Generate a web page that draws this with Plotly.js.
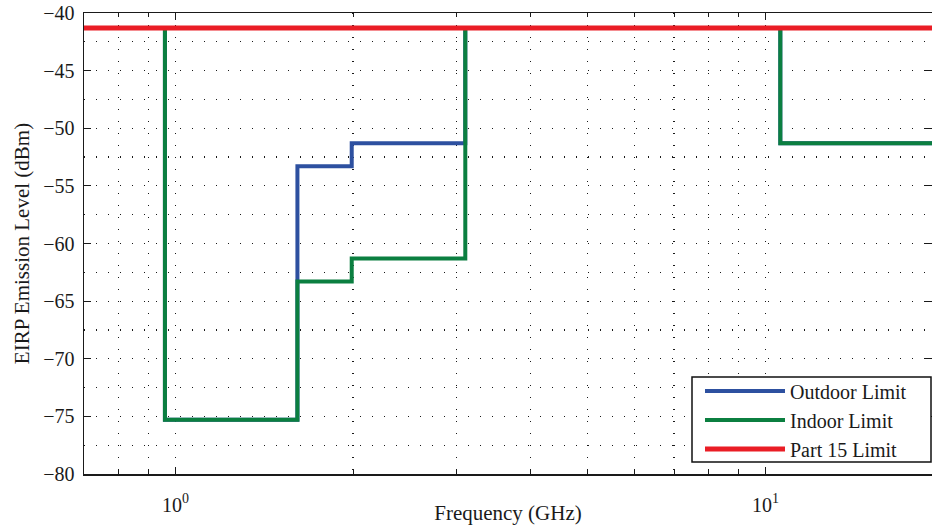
<!DOCTYPE html>
<html>
<head>
<meta charset="utf-8">
<script src="https://cdn.plot.ly/plotly-3.0.1.min.js"></script>
<style>html,body{margin:0;padding:0;background:#fff;}</style>
</head>
<body>
<div id="chart" style="width:932px;height:525px;"></div>
<script>
// Band edges (GHz) and limits (dBm), step held until the next edge
const freqEdges = [0.7, 0.96, 1.61, 1.99, 3.1, 10.6, 20];
const outdoorLimit = [-41.3, -75.3, -53.3, -51.3, -41.3, -51.3, -51.3];
const indoorLimit = [-41.3, -75.3, -63.3, -61.3, -41.3, -51.3, -51.3];
const part15Freq = [0.7, 20];
const part15Limit = [-41.3, -41.3];

const seriesNames = ['Outdoor Limit', 'Indoor Limit', 'Part 15 Limit'];
const xMajorTicks = [1, 10];
const xMajorText = ['10<sup>0</sup>', '10<sup>1</sup>'];
const xMinorTicks = [0.8, 0.9, 2, 3, 4, 5, 6, 7, 8, 9, 20];
const yTicks = [-80, -75, -70, -65, -60, -55, -50, -45, -40];
const yTickText = ['\u221280', '\u221275', '\u221270', '\u221265', '\u221260', '\u221255', '\u221250', '\u221245', '\u221240'];

const serif = 'Liberation Serif, Times New Roman, serif';
const dotDash = '1px,11px';
const ink = '#1a1a1a';

const traces = [
  {x: freqEdges, y: outdoorLimit, name: seriesNames[0], type: 'scatter', mode: 'lines',
   line: {shape: 'hv', color: '#2d50a0', width: 4}},
  {x: freqEdges, y: indoorLimit, name: seriesNames[1], type: 'scatter', mode: 'lines',
   line: {shape: 'hv', color: '#0b7f40', width: 4}},
  {x: part15Freq, y: part15Limit, name: seriesNames[2], type: 'scatter', mode: 'lines',
   line: {color: '#ea1d25', width: 5}}
];

const L = 84, W = 932, T = 13, B = 474, decadePx = 590;
const xr0 = Math.log10(0.7);
const xr1 = xr0 + (W - L) / decadePx;
const px = v => (v - L) / (W - L);
const py = v => (B - v) / (B - T);

const layout = {
  width: 932, height: 525,
  margin: {l: L, r: 0, t: T, b: 525 - B},
  paper_bgcolor: '#fff', plot_bgcolor: '#fff',
  font: {family: serif, size: 20, color: ink},
  showlegend: true,
  legend: {
    x: px(700), xanchor: 'left', y: py(420), yanchor: 'middle',
    bgcolor: 'rgba(0,0,0,0)', borderwidth: 0,
    font: {family: serif, size: 20, color: ink},
    itemwidth: 80, tracegroupgap: 0
  },
  shapes: [
    {type: 'rect', xref: 'paper', yref: 'paper', layer: 'above',
     x0: px(692), x1: px(931), y0: py(462), y1: py(377),
     fillcolor: '#fff', line: {color: '#111', width: 1.5}}
  ],
  xaxis: {
    type: 'log', range: [xr0, xr1],
    tickmode: 'array', tickvals: xMajorTicks, ticktext: xMajorText,
    ticks: 'inside', ticklen: 7, tickwidth: 1, tickcolor: ink,
    showline: true, linecolor: ink, linewidth: 1.5, mirror: 'allticks',
    showgrid: true, gridcolor: ink, gridwidth: 1.2, griddash: dotDash,
    minor: {tickmode: 'array', tickvals: xMinorTicks, ticks: 'inside', ticklen: 4,
            tickcolor: ink, showgrid: true, gridcolor: ink, gridwidth: 1.2, griddash: dotDash},
    tickfont: {family: serif, size: 20, color: ink},
    ticklabelstandoff: 12,
    zeroline: false,
    title: {text: 'Frequency (GHz)', font: {family: serif, size: 21, color: ink}, standoff: 0}
  },
  yaxis: {
    range: [-80, -40],
    tickmode: 'array', tickvals: yTicks, ticktext: yTickText,
    ticks: 'inside', ticklen: 7, tickwidth: 1, tickcolor: ink,
    showline: true, linecolor: ink, linewidth: 1.5, mirror: 'ticks',
    showgrid: true, gridcolor: ink, gridwidth: 1.2, griddash: dotDash,
    minor: {dtick: 2.5, tick0: -80, ticks: '', showgrid: true, gridcolor: ink, gridwidth: 1.2, griddash: dotDash},
    tickfont: {family: serif, size: 20, color: ink},
    ticklabelstandoff: 4,
    zeroline: false,
    title: {text: 'EIRP Emission Level (dBm)', font: {family: serif, size: 21, color: ink}, standoff: 8}
  }
};

Plotly.newPlot('chart', traces, layout, {displayModeBar: false, staticPlot: true});
</script>
</body>
</html>
